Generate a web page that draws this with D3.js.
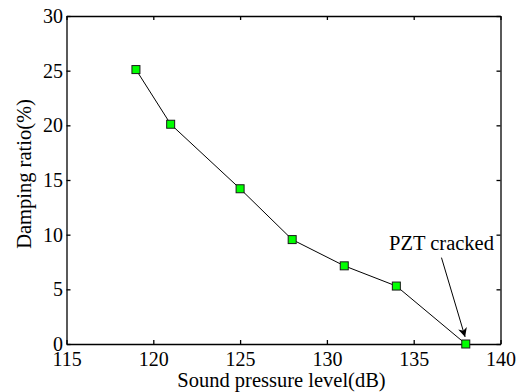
<!DOCTYPE html>
<html lang="en">
<head>
  <meta charset="UTF-8">
  <title>Damping ratio vs sound pressure level</title>
  <script src="https://d3js.org/d3.v7.min.js"></script>
  <style>
    body { margin: 0; background: #fff; }
    svg { display: block; font-family: "Liberation Serif", "Times New Roman", serif; }
    .axis path, .axis line { stroke: #000; stroke-width: 1.3px; }
    .label { font-size: 20.5px; fill: #000; }
  </style>
</head>
<body>
  <svg width="528" height="392"></svg>

  <script>
    // data
    const soundLevel = [119, 121, 125, 128, 131, 134, 138];
    const damping = [25.1, 20.1, 14.2, 9.55, 7.15, 5.3, 0];
    const xTicks = [115, 120, 125, 130, 135, 140];
    const yTicks = [0, 5, 10, 15, 20, 25, 30];
    const note = { text: 'PZT cracked', from: [136.6, 7.9], to: [137.96, 0.65] };

    const serif = '"Liberation Serif", "Times New Roman", serif';

    const svg = d3.select('svg');
    const margin = { top: 16, right: 27.5, bottom: 48, left: 66.5 };
    const width = +svg.attr('width') - margin.left - margin.right;
    const height = +svg.attr('height') - margin.top - margin.bottom;

    const chart = svg.append('g')
      .attr('transform', `translate(${margin.left},${margin.top})`);

    const x = d3.scaleLinear().domain([115, 140]).range([0, width]);
    const y = d3.scaleLinear().domain([0, 30]).range([height, 0]);

    function styleAxis(g) {
      g.attr('font-family', serif).attr('font-size', 20);
      g.selectAll('text').style('font-family', serif).style('font-size', '20px').attr('fill', '#000');
    }

    // bottom + left axes with inward ticks
    chart.append('g')
      .attr('class', 'axis')
      .attr('transform', `translate(0,${height})`)
      .call(d3.axisBottom(x).tickValues(xTicks).tickSizeInner(-4).tickSizeOuter(0).tickPadding(8))
      .call(styleAxis);

    chart.append('g')
      .attr('class', 'axis')
      .call(d3.axisLeft(y).tickValues(yTicks).tickSizeInner(-4).tickSizeOuter(0).tickPadding(3.5))
      .call(styleAxis)
      .call(g => g.selectAll('text').attr('dy', '0.33em'));

    // mirrored top + right
    chart.append('g')
      .attr('class', 'axis')
      .call(d3.axisTop(x).tickValues(xTicks).tickSizeInner(-4).tickSizeOuter(0).tickFormat(''));

    chart.append('g')
      .attr('class', 'axis')
      .attr('transform', `translate(${width},0)`)
      .call(d3.axisRight(y).tickValues(yTicks).tickSizeInner(-4).tickSizeOuter(0).tickFormat(''));

    const points = soundLevel.map((d, i) => [d, damping[i]]);

    chart.append('path')
      .datum(points)
      .attr('fill', 'none')
      .attr('stroke', '#000')
      .attr('stroke-width', 1)
      .attr('d', d3.line().x(d => x(d[0])).y(d => y(d[1])));

    const s = 8;
    chart.selectAll('.marker')
      .data(points)
      .enter()
      .append('rect')
      .attr('class', 'marker')
      .attr('x', d => x(d[0]) - s / 2)
      .attr('y', d => y(d[1]) - s / 2)
      .attr('width', s)
      .attr('height', s)
      .attr('fill', '#00ff00')
      .attr('stroke', '#1a1a1a')
      .attr('stroke-width', 1);

    // annotation
    svg.append('defs').append('marker')
      .attr('id', 'head')
      .attr('viewBox', '0 0 10 10')
      .attr('refX', 10).attr('refY', 5)
      .attr('markerWidth', 11).attr('markerHeight', 9)
      .attr('markerUnits', 'userSpaceOnUse')
      .attr('orient', 'auto')
      .append('path')
      .attr('d', 'M0,0 L10,5 L0,10 L3,5 Z')
      .attr('fill', '#000');

    chart.append('line')
      .attr('x1', x(note.from[0])).attr('y1', y(note.from[1]))
      .attr('x2', x(note.to[0])).attr('y2', y(note.to[1]))
      .attr('stroke', '#000')
      .attr('stroke-width', 1)
      .attr('marker-end', 'url(#head)');

    chart.append('text')
      .attr('class', 'label')
      .attr('x', x(note.from[0]))
      .attr('y', y(note.from[1]) - 7.7)
      .attr('text-anchor', 'middle')
      .text(note.text);

    // axis titles
    svg.append('text')
      .attr('class', 'label')
      .attr('x', margin.left + width / 2 - 2)
      .attr('y', 386.5)
      .attr('text-anchor', 'middle')
      .text('Sound pressure level(dB)');

    svg.append('text')
      .attr('class', 'label')
      .attr('transform', `translate(31,174) rotate(-90)`)
      .attr('text-anchor', 'middle')
      .text('Damping ratio(%)');
  </script>
</body>
</html>
